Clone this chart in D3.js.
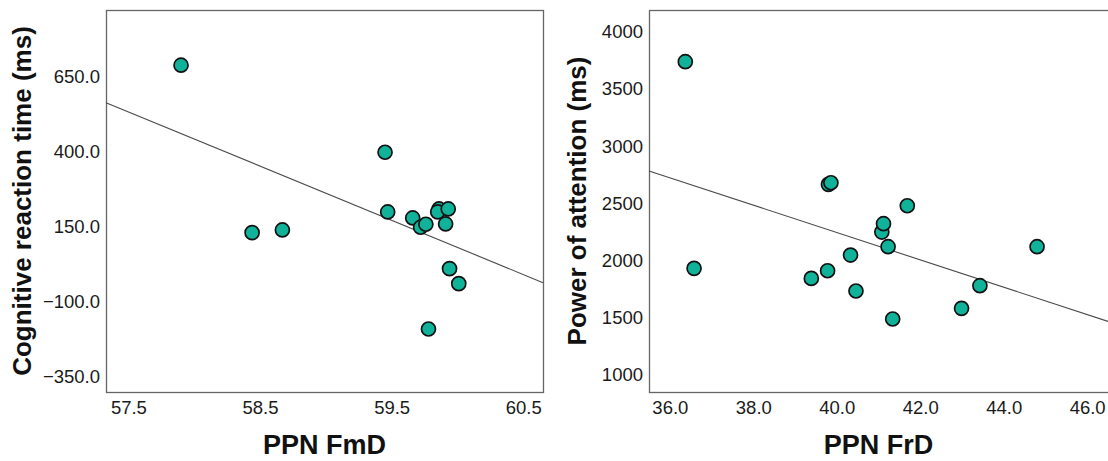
<!DOCTYPE html>
<html>
<head>
<meta charset="utf-8">
<script src="https://cdn.jsdelivr.net/npm/d3@7"></script>
<style>
  html, body { margin: 0; padding: 0; background: #fff; }
  svg { display: block; font-family: "Liberation Sans", Arial, sans-serif; }
</style>
</head>
<body>
<svg id="chart" width="1108" height="461"></svg>
<script>
// ---- Data ----
const fmdX = [57.90, 58.44, 58.67, 59.45, 59.47, 59.66, 59.72, 59.76, 59.86, 59.85, 59.93, 59.91, 59.94, 60.01, 59.78];
const fmdY = [688, 130, 139, 398, 199, 179, 148, 158, 209, 199, 209, 159, 10, -40, -191];

const frdX = [36.37, 36.58, 39.39, 39.78, 39.80, 39.86, 40.33, 40.46, 41.08, 41.12, 41.23, 41.34, 41.69, 42.99, 43.43, 44.80];
const frdY = [3738, 1932, 1844, 1911, 2666, 2680, 2048, 1734, 2249, 2322, 2121, 1489, 2479, 1582, 1780, 2121];

const leftXTicks = [57.5, 58.5, 59.5, 60.5];
const leftYTicks = [-350, -100, 150, 400, 650];
const rightXTicks = [36, 38, 40, 42, 44, 46];
const rightYTicks = [1000, 1500, 2000, 2500, 3000, 3500, 4000];

const leftXTitle = "PPN FmD";
const leftYTitle = "Cognitive reaction time (ms)";
const rightXTitle = "PPN FrD";
const rightYTitle = "Power of attention (ms)";

// ---- Drawing ----
const svg = d3.select("#chart");
const pointFill = "#10b29a";

function fit(xs, ys) {
  const mx = d3.mean(xs), my = d3.mean(ys);
  let sxy = 0, sxx = 0;
  xs.forEach((x, i) => { sxy += (x - mx) * (ys[i] - my); sxx += (x - mx) * (x - mx); });
  const b = sxy / sxx;
  return x => my + b * (x - mx);
}

function panel(cfg) {
  const g = svg.append("g");
  const x = d3.scaleLinear().domain(cfg.xDomain).range([cfg.left, cfg.right]);
  const y = d3.scaleLinear().domain(cfg.yDomain).range([cfg.bottom, cfg.top]);

  // frame
  g.append("rect")
    .attr("x", cfg.left + 0.5).attr("y", cfg.top + 0.5)
    .attr("width", cfg.frameRight - cfg.left - 1).attr("height", cfg.bottom - cfg.top)
    .attr("fill", "none").attr("stroke", "#666").attr("stroke-width", 1.3);

  // x axis labels
  const xa = g.append("g").attr("transform", `translate(0,${cfg.bottom})`)
    .call(d3.axisBottom(x).tickValues(cfg.xTicks).tickFormat(d3.format(".1f")).tickSize(0).tickPadding(8));
  xa.select(".domain").remove();
  xa.selectAll("text").attr("font-size", 18.5).attr("fill", "#1a1a1a")
    .attr("font-family", "Liberation Sans, Arial, sans-serif").attr("dy", "0.75em");

  // y axis labels
  const ya = g.append("g").attr("transform", `translate(${cfg.left},0)`)
    .call(d3.axisLeft(y).tickValues(cfg.yTicks).tickFormat(d3.format(cfg.yFormat)).tickSize(0).tickPadding(6));
  ya.select(".domain").remove();
  ya.selectAll("text").attr("font-size", 18.5).attr("fill", "#1a1a1a")
    .attr("font-family", "Liberation Sans, Arial, sans-serif");

  // regression line
  const f = fit(cfg.xs, cfg.ys);
  const xd = x.domain();
  g.append("line")
    .attr("x1", x(xd[0])).attr("y1", y(f(xd[0])))
    .attr("x2", x(xd[1])).attr("y2", y(f(xd[1])))
    .attr("stroke", "#4a4a4a").attr("stroke-width", 1.1);

  // points
  g.selectAll("circle.pt").data(cfg.xs.map((v, i) => [v, cfg.ys[i]]))
    .join("circle").attr("class", "pt")
    .attr("cx", d => x(d[0])).attr("cy", d => y(d[1]))
    .attr("r", 7)
    .attr("fill", pointFill).attr("stroke", "#111").attr("stroke-width", 1.7);

  // titles
  g.append("text")
    .attr("x", (cfg.left + cfg.right) / 2).attr("y", 454)
    .attr("text-anchor", "middle").attr("font-size", 27).attr("font-weight", "bold")
    .attr("fill", "#111").text(cfg.xTitle);
  g.append("text")
    .attr("transform", `translate(${cfg.yTitleX},${(cfg.top + cfg.bottom) / 2}) rotate(-90)`)
    .attr("text-anchor", "middle").attr("font-size", 26).attr("font-weight", "bold")
    .attr("fill", "#111").text(cfg.yTitle);
}

panel({
  xs: fmdX, ys: fmdY,
  xDomain: [57.33, 60.65], yDomain: [-401, 872],
  left: 106, right: 543, frameRight: 544, top: 10, bottom: 392,
  xTicks: leftXTicks, yTicks: leftYTicks, yFormat: ".1f",
  xTitle: leftXTitle, yTitle: leftYTitle, yTitleX: 31
});

panel({
  xs: frdX, ys: frdY,
  xDomain: [35.5, 46.5], yDomain: [851, 4190],
  left: 649, right: 1108, frameRight: 1112, top: 10, bottom: 392,
  xTicks: rightXTicks, yTicks: rightYTicks, yFormat: "d",
  xTitle: rightXTitle, yTitle: rightYTitle, yTitleX: 586
});
</script>
</body>
</html>
